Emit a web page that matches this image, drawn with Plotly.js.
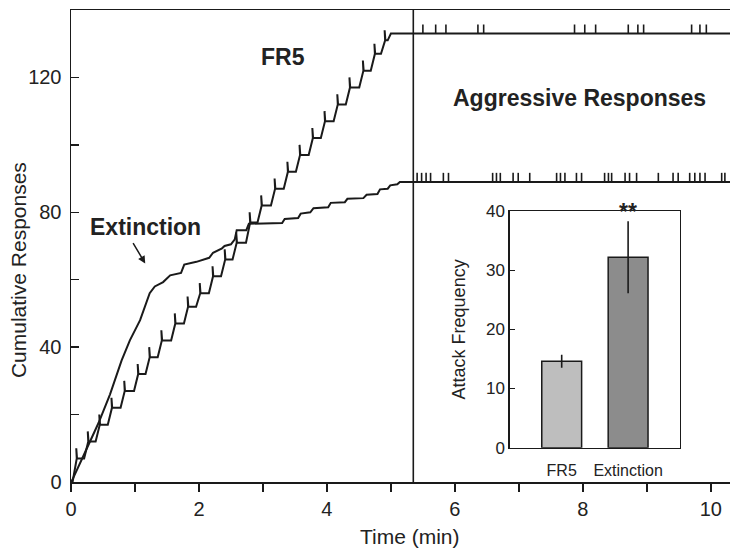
<!DOCTYPE html>
<html>
<head>
<meta charset="utf-8">
<script src="https://cdn.plot.ly/plotly-3.0.1.min.js"></script>
<style>html,body{margin:0;padding:0;background:#fff;}#chart{width:730px;height:552px;}</style>
</head>
<body>
<div id="chart"></div>
<script>
// ---- data ----
var sessionEnd = 5.35;           // end of the cumulative-record session (min)
var xMax = 10.3;                 // visible right edge of time axis

// FR5: times of each reinforcement pip (min) and the cumulative count reached
var fr5PipTimes = [0.09,0.27,0.45,0.64,0.84,1.05,1.23,1.42,1.63,1.83,2.02,2.22,2.41,2.59,2.80,2.98,3.19,3.39,3.58,3.78,3.97,4.17,4.36,4.57,4.75,4.91];
var fr5PipCounts = [7,12,17,22,27,32,37,42,47,52,56,61,66,71,77,82,87,92,97,102,107,112,117,122,127,131];
var fr5FinalTime = 5.0;
var fr5FinalCount = 133;

// Extinction cumulative record (time, cumulative responses)
var extTimes  = [0,0.03,0.2,0.43,0.61,0.79,0.92,1.08,1.23,1.31,1.44,1.5,1.55,1.72,1.77,1.96,2.1,2.16,2.22,2.36,2.4,2.5,2.56,2.59,2.74,2.78,3.3,3.34,3.55,3.59,3.74,3.79,4.02,4.06,4.28,4.32,4.57,4.62,4.79,4.83,4.95,4.99,5.1,5.14,5.35];
var extCounts = [0,1,8,17.5,26,36,42,48,56,58,59.3,60.5,61.3,62,64.5,65.3,66,66.5,68,69.3,70,70.5,72,74.7,74.7,76.6,76.8,78,78.3,79.6,80,81.2,81.5,82.8,83,84,84.2,85.2,85.4,86.8,87,88,88.3,89,89];

// Aggressive response event records (time, min)
var aggrFR5 = [5.50,5.70,5.86,6.36,6.45,7.87,8.03,8.20,8.71,8.86,8.95,9.70,9.83,9.93];
var aggrExt = [5.41,5.48,5.55,5.62,5.82,5.90,6.59,6.65,6.71,6.91,6.99,7.17,7.59,7.65,7.72,7.90,7.98,8.34,8.40,8.45,8.66,8.73,8.84,9.18,9.41,9.49,9.67,9.75,9.83,9.91,10.17,10.22];

// Inset bar chart
var barCats = ['FR5','Extinction'];
var barMeans = [14.6, 32.2];
var barErr = [1.1, 6.1];
var barColors = ['#bebebe','#8c8c8c'];

// ---- build paths from the data ----
var ink = '#1a1a1a';
var riseDur = 0.065, pipDt = 0.008, pipH = 3;
var fx = [0], fy = [0], prev = 0;
for (var i = 0; i < fr5PipTimes.length; i++) {
  var T = fr5PipTimes[i], L = fr5PipCounts[i];
  var start = Math.max(T - riseDur, fx[fx.length-1]);
  fx.push(start); fy.push(prev);
  fx.push(T); fy.push(L);
  fx.push(T - pipDt); fy.push(L + pipH);
  fx.push(T + 0.004); fy.push(L);
  prev = L;
}
fx.push(fr5FinalTime - 0.05); fy.push(prev);
fx.push(fr5FinalTime); fy.push(fr5FinalCount);
fx.push(xMax); fy.push(fr5FinalCount);

var ex = extTimes.slice(), ey = extCounts.slice();
ex.push(xMax); ey.push(extCounts[extCounts.length-1]);

function ticks(times, base, h) {
  var x = [], y = [];
  times.forEach(function(t){ x.push(t,t,null); y.push(base, base+h, null); });
  return {x:x, y:y};
}
var tkF = ticks(aggrFR5, fr5FinalCount, 2.7);
var tkE = ticks(aggrExt, extCounts[extCounts.length-1], 2.7);

var font = 'Liberation Sans, Arial, Helvetica, sans-serif';

var traces = [
  {x:fx, y:fy, type:'scatter', mode:'lines', line:{color:ink, width:2}, hoverinfo:'skip', showlegend:false},
  {x:ex, y:ey, type:'scatter', mode:'lines', line:{color:ink, width:2}, hoverinfo:'skip', showlegend:false},
  {x:tkF.x, y:tkF.y, type:'scatter', mode:'lines', line:{color:ink, width:1.6}, connectgaps:false, showlegend:false},
  {x:tkE.x, y:tkE.y, type:'scatter', mode:'lines', line:{color:ink, width:1.6}, connectgaps:false, showlegend:false},
  {x:barCats, y:barMeans, type:'bar', xaxis:'x2', yaxis:'y2', width:0.6,
   marker:{color:barColors, line:{color:ink, width:1.5}},
   error_y:{type:'data', array:barErr, visible:true, width:0, thickness:1.6, color:ink},
   showlegend:false}
];

var layout = {
  width:730, height:552,
  margin:{l:71, r:0, t:10, b:70},
  paper_bgcolor:'#fff', plot_bgcolor:'#fff',
  font:{family:font, color:'#222'},
  showlegend:false,
  xaxis:{range:[0,xMax], tick0:0, dtick:2, ticks:'outside', ticklen:8, tickwidth:1.5, tickcolor:ink,
         minor:{dtick:1, ticks:'outside', ticklen:8, tickwidth:1.5, tickcolor:ink},
         showline:true, linecolor:ink, linewidth:1.5, mirror:true, showgrid:false, zeroline:false,
         tickfont:{size:20, family:font, color:'#222'}},
  yaxis:{range:[0,140], tick0:0, dtick:40, ticks:'inside', ticklen:8, tickwidth:1.5, tickcolor:ink,
         minor:{dtick:20, ticks:'inside', ticklen:8, tickwidth:1.5, tickcolor:ink},
         showline:true, linecolor:ink, linewidth:1.5, showgrid:false, zeroline:false,
         ticklabelstandoff:4, tickfont:{size:20, family:font, color:'#222'}},
  xaxis2:{domain:[0.666,0.924], anchor:'y2', type:'category', range:[-0.78,1.78],
          showline:true, linecolor:ink, linewidth:1.5, mirror:true, ticks:'', showgrid:false,
          ticklabelstandoff:8, tickfont:{size:16, family:font, color:'#222'}},
  yaxis2:{domain:[0.0727,0.574], anchor:'x2', range:[0,40], dtick:10, ticks:'inside', ticklen:5,
          tickwidth:1.2, tickcolor:ink, showline:true, linecolor:ink, linewidth:1.5, mirror:true,
          showgrid:false, zeroline:false, tickfont:{size:17, family:font, color:'#222'},
          title:{text:'Attack Frequency', font:{size:18, family:font, color:'#222'}, standoff:16}},
  shapes:[
    {type:'line', xref:'x', yref:'paper', x0:sessionEnd, x1:sessionEnd, y0:0, y1:1, line:{color:ink, width:1.6}}
  ],
  annotations:[
    {xref:'paper', yref:'paper', x:-0.0804, y:0.449, xanchor:'center', yanchor:'middle', text:'Cumulative Responses', textangle:-90, showarrow:false, font:{size:21, family:font, color:'#222'}},
    {xref:'paper', yref:'paper', x:0.514, y:-0.1165, xanchor:'center', yanchor:'middle', text:'Time (min)', showarrow:false, font:{size:21, family:font, color:'#222'}},
    {xref:'x', yref:'y', x:3.31, y:126, text:'<b>FR5</b>', showarrow:false, font:{size:23, family:font, color:'#222'}},
    {xref:'x', yref:'y', x:1.16, y:75.6, text:'<b>Extinction</b>', showarrow:false, font:{size:23, family:font, color:'#222'}},
    {xref:'x', yref:'y', x:1.16, y:64.8, ax:-13, ay:-22, text:'', showarrow:true, arrowhead:2, arrowsize:1, arrowwidth:1.5, arrowcolor:ink},
    {xref:'x', yref:'y', x:7.95, y:114, text:'<b>Aggressive Responses</b>', showarrow:false, font:{size:23, family:font, color:'#222'}},
    {xref:'x2', yref:'y2', x:barCats[1], y:barMeans[1]+barErr[1], text:'<b>**</b>', showarrow:false, yanchor:'bottom', yshift:-6, font:{size:23, family:font, color:'#222'}}
  ]
};

Plotly.newPlot('chart', traces, layout, {staticPlot:true, displayModeBar:false});
</script>
</body>
</html>
